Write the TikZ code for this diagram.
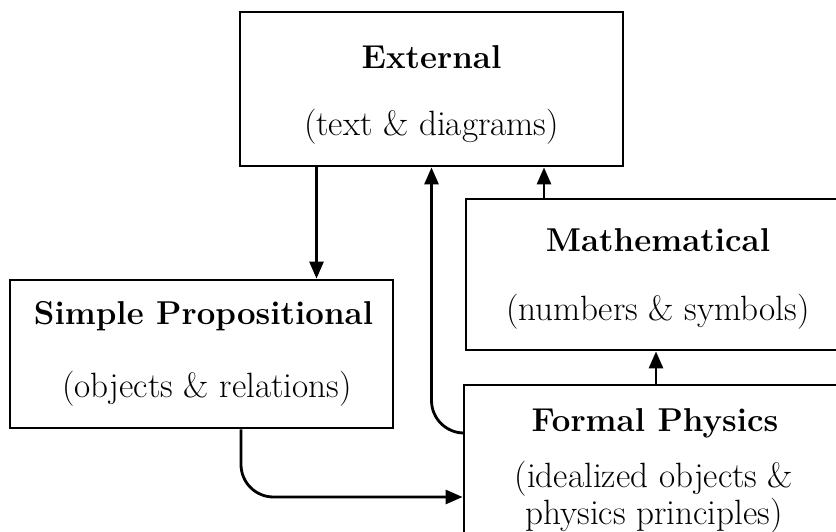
\documentclass[tikz,border=0pt]{standalone}
\usepackage{tikz}
\usetikzlibrary{arrows.meta, positioning}

\begin{document}
\begin{tikzpicture}[
    box/.style={rectangle, draw, line width=1.6pt, minimum width=7.66cm, minimum height=3cm},
    title/.style={font=\fontsize{18.8}{22}\selectfont\bfseries},
    sub/.style={font=\fontsize{20}{21}\selectfont, align=center},
    line width=1.6pt,
    >={Triangle[length=3.4mm,width=2.8mm]}
]
\clip (0,0) rectangle (16.72,10.62);

\node[box, minimum height=3.08cm] (ext) at (8.63,8.84) {};
\node[box, minimum width=7.68cm, minimum height=3.02cm] (math) at (13.16,5.13) {};
\node[box, minimum height=2.96cm] (prop) at (4.03,3.54) {};
\node[box, minimum width=7.68cm, minimum height=3.2cm] (phys) at (13.12,1.32) {};

\node[title] (extT) at (8.63,9.48) {External};
\node[sub] (extS) at (8.63,8.08) {(text \& diagrams)};
\node[title] (mathT) at (13.16,5.82) {Mathematical};
\node[sub] (mathS) at (13.16,4.38) {(numbers \& symbols)};
\node[title] (propT) at (4.07,4.30) {Simple Propositional};
\node[sub] (propS) at (4.14,2.84) {(objects \& relations)};
\node[title] (physT) at (13.10,2.16) {Formal Physics};
\node[sub] (physS) at (13.08,0.68) {(idealized objects \&\\physics principles)};

\coordinate (propIn) at ([xshift=2.3cm]prop.north);
\coordinate (mathOut) at ([xshift=-2.28cm]math.north);

\draw[->] (propIn |- ext.south) -- (propIn);
\draw[->] (mathOut) -- (mathOut |- ext.south);
\draw[->] (phys.north) -- (phys.north |- math.south);
\draw[->, rounded corners=0.65cm] ([yshift=0.64cm]phys.west) -| (ext.south);
\draw[->, rounded corners=0.65cm] ([xshift=0.79cm]prop.south) |- ([yshift=-0.64cm]phys.west);
\end{tikzpicture}
\end{document}
